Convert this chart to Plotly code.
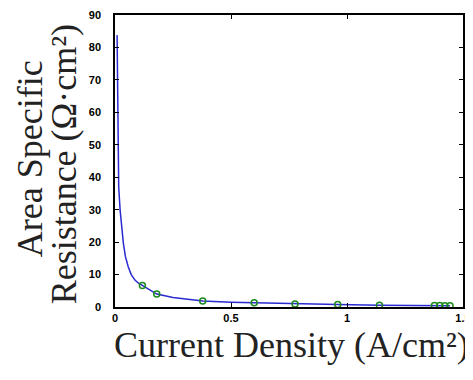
import plotly.graph_objects as go

# curve
curve_x = [0.009, 0.011, 0.013, 0.016, 0.022, 0.030, 0.036, 0.045, 0.057, 0.070, 0.086, 0.100,
           0.118, 0.150, 0.180, 0.250, 0.300, 0.378, 0.500, 0.600, 0.780, 0.960, 1.140, 1.300, 1.444]
curve_y = [83.8, 66.7, 45.0, 37.0, 29.9, 23.0, 19.7, 15.5, 12.4, 10.0, 8.3, 7.4,
           6.6, 5.1, 4.0, 2.9, 2.4, 1.85, 1.5, 1.3, 0.9, 0.75, 0.55, 0.47, 0.4]

# measured points
pts_x = [0.118, 0.180, 0.378, 0.600, 0.776, 0.960, 1.140, 1.377, 1.400, 1.422, 1.444]
pts_y = [6.6, 4.0, 1.85, 1.3, 0.9, 0.75, 0.55, 0.45, 0.43, 0.42, 0.40]

x_ticks = [0, 0.5, 1, 1.5]
x_tick_text = ["0", "0.5", "1", "1.5"]
y_ticks = [0, 10, 20, 30, 40, 50, 60, 70, 80, 90]

fig = go.Figure()
fig.add_trace(go.Scatter(x=curve_x, y=curve_y, mode="lines",
                         line=dict(color="#2a2ad0", width=1.5), showlegend=False))
fig.add_trace(go.Scatter(x=pts_x, y=pts_y, mode="markers",
                         marker=dict(symbol="circle-open", size=6, color="#1a8a1a",
                                     line=dict(width=1.5)), showlegend=False))

tickfont = dict(family="Liberation Sans Narrow, Arial Narrow, Liberation Sans, Arial",
                size=11, color="black", weight="bold")
axis_common = dict(showgrid=False, zeroline=False, showline=True, linecolor="black",
                   linewidth=1.5, mirror="ticks", ticks="inside", ticklen=4,
                   tickcolor="black", tickwidth=1, tickfont=tickfont, automargin=False)

fig.update_xaxes(range=[0, 1.5], tickvals=x_ticks, ticktext=x_tick_text,
                 ticklabelstandoff=0, **axis_common)
fig.update_yaxes(range=[0, 90], tickvals=y_ticks, ticklabelstandoff=10, **axis_common)

title_font = dict(family="Liberation Serif, Times New Roman, serif", size=36, color="#222")
fig.add_annotation(text="Current Density (A/cm²)", xref="paper", yref="paper",
                   x=0.506, y=-0.13, xanchor="center", yanchor="middle", showarrow=False,
                   font=title_font)
fig.add_annotation(text="Area Specific", xref="paper", yref="paper",
                   x=-0.242, y=0.509, xanchor="center", yanchor="middle", showarrow=False,
                   textangle=-90, font=title_font)
fig.add_annotation(text="Resistance (Ω·cm²)", xref="paper", yref="paper",
                   x=-0.147, y=0.488, xanchor="center", yanchor="middle", showarrow=False,
                   textangle=-90, font=title_font)

fig.update_layout(width=465, height=372, margin=dict(l=107, r=10, t=7, b=73),
                  paper_bgcolor="white", plot_bgcolor="white")
fig.write_html("out.html")
